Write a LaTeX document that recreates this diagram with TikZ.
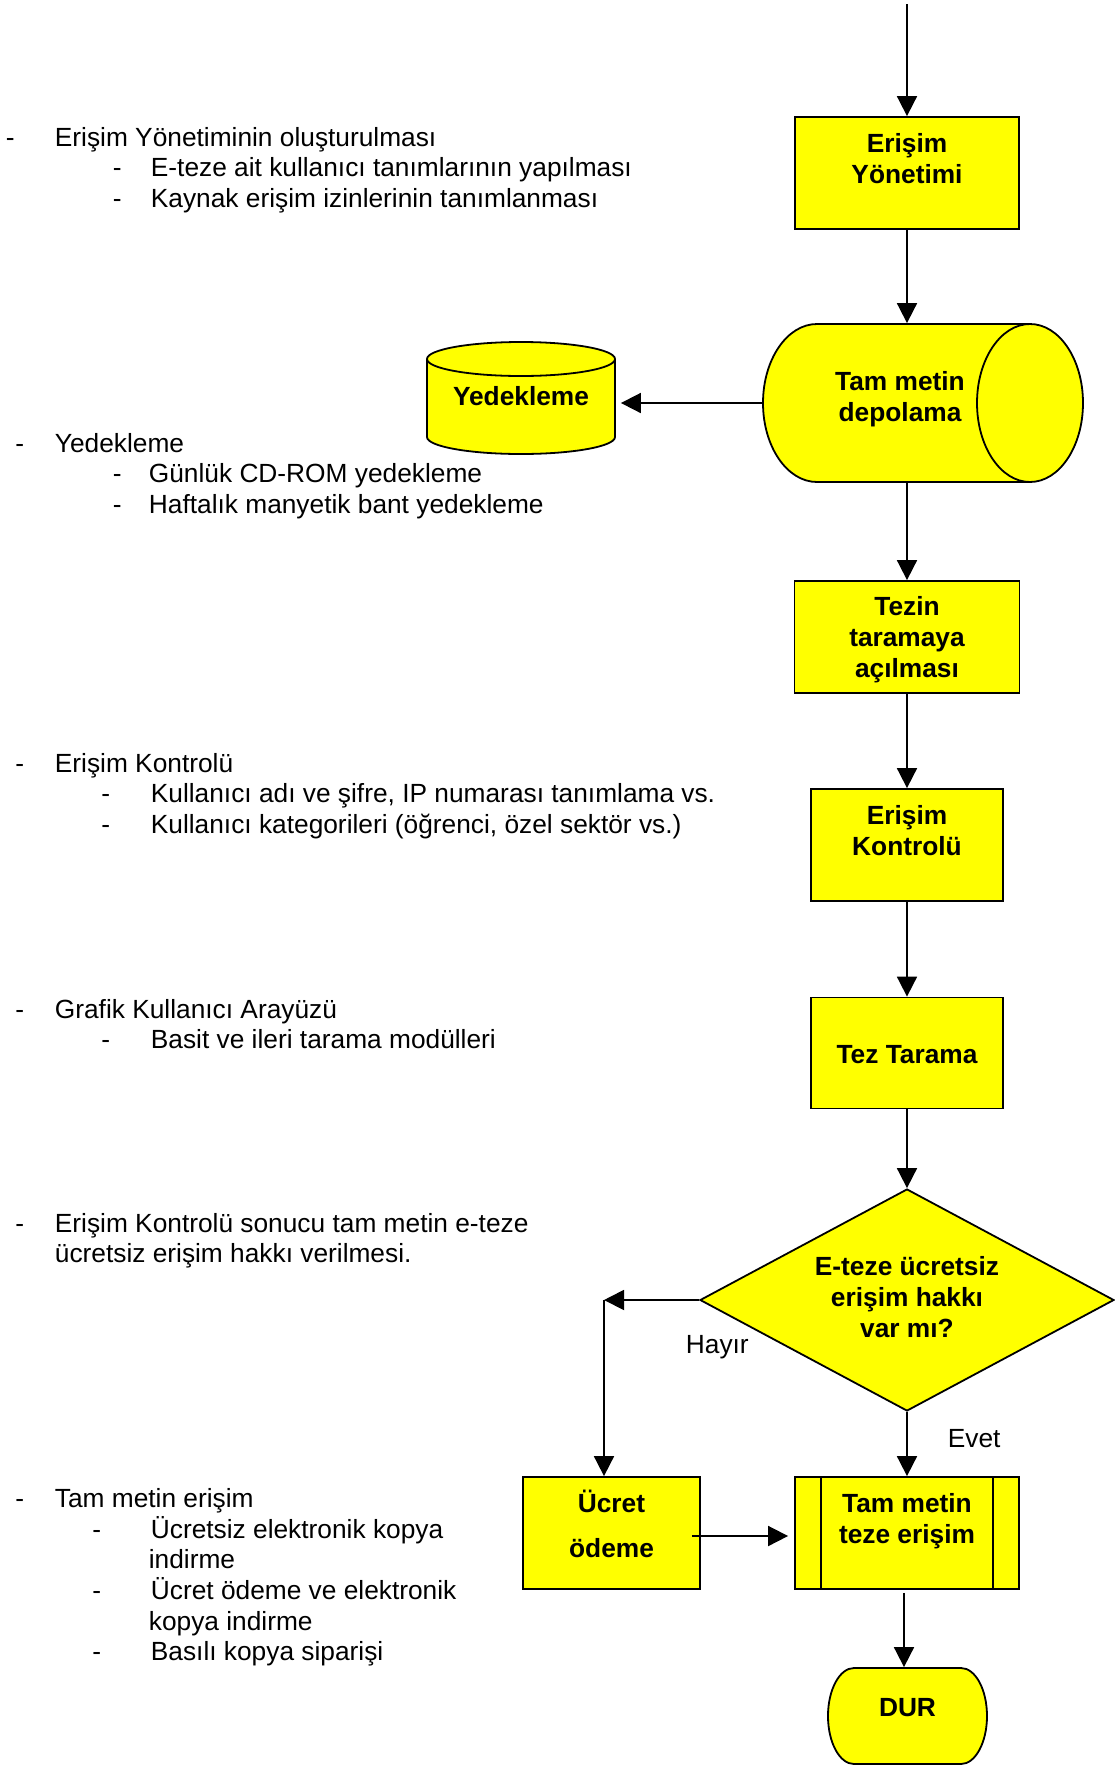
\documentclass[tikz,border=0pt]{standalone}
\usepackage{fontspec}
\setmainfont{Liberation Sans}
\usetikzlibrary{arrows.meta,shapes.geometric,calc}
\definecolor{fy}{HTML}{FFFF00}
\begin{document}
\begin{tikzpicture}[x=1pt,y=-1pt, line width=1.8pt,
  box/.style={draw, fill=fy, inner sep=0pt},
  ghost/.style={inner sep=0pt},
  arr/.style={-{Triangle[length=20pt,width=20pt]}},
  bt/.style={font=\fontsize{26.3pt}{30.4pt}\selectfont\bfseries, inner sep=0pt, anchor=base},
  rt/.style={font=\fontsize{26.3pt}{30.4pt}\selectfont, inner sep=0pt, anchor=base west}]
\useasboundingbox (0,0) rectangle (1115,1765);

% ---- Erisim Yonetimi
\coordinate (start) at (907,4);
\node[box, minimum width=224pt, minimum height=112pt] (yon) at (907,173) {};
\node[bt] (yon1) at (907,152) {Erişim};
\node[bt] (yon2) at (907,183) {Yönetimi};

% ---- Tam metin depolama (horizontal cylinder)
\node[ghost, minimum width=320pt, minimum height=158pt] (depo) at (923,403) {};
\filldraw[fill=fy] (817,403) ellipse [x radius=54pt, y radius=79pt];
\fill[fy] (817,324) rectangle (1030,482);
\draw (817,324) -- (1030,324) (817,482) -- (1030,482);
\filldraw[fill=fy] (1030,403) ellipse [x radius=53pt, y radius=79pt];
\node[bt] (depo1) at (900,390) {Tam metin};
\node[bt] (depo2) at (900,421) {depolama};

% ---- Yedekleme (vertical cylinder)
\node[ghost, minimum width=188pt, minimum height=112pt] (yed) at (521,398) {};
\filldraw[fill=fy] (521,437) ellipse [x radius=94pt, y radius=17pt];
\fill[fy] (427,359) rectangle (615,437);
\draw (427,359) -- (427,437) (615,359) -- (615,437);
\filldraw[fill=fy] (521,359) ellipse [x radius=94pt, y radius=17pt];
\node[bt] (yedt) at (521,405) {Yedekleme};

% ---- Tezin taramaya acilmasi
\node[box, minimum width=225pt, minimum height=112pt] (tezin) at (907,637) {};
\node[bt] (tezin1) at (907,615) {Tezin};
\node[bt] (tezin2) at (907,646) {taramaya};
\node[bt] (tezin3) at (907,677) {açılması};

% ---- Erisim Kontrolu
\node[box, minimum width=192pt, minimum height=112pt] (kontrol) at (907,845) {};
\node[bt] (kontrol1) at (907,824) {Erişim};
\node[bt] (kontrol2) at (907,855) {Kontrolü};

% ---- Tez Tarama
\node[box, minimum width=192pt, minimum height=111pt] (tarama) at (907,1053) {};
\node[bt] (tarama1) at (907,1063) {Tez Tarama};

% ---- Decision
\node[draw, fill=fy, diamond, inner sep=0pt, minimum width=414pt, minimum height=222pt] (dia) at (907,1300) {};
\node[bt] (dia1) at (907,1275) {E-teze ücretsiz};
\node[bt] (dia2) at (907,1306) {erişim hakkı};
\node[bt] (dia3) at (907,1337) {var mı?};
\node[rt] (hayir) at (685,1353) {Hayır};
\node[rt] (evet) at (947,1447) {Evet};

% ---- Ucret odeme
\node[box, minimum width=177pt, minimum height=112pt] (ucret) at (611.5,1533) {};
\node[bt] (ucret1) at (611.5,1512) {Ücret};
\node[bt] (ucret2) at (611.5,1557) {ödeme};

% ---- Tam metin teze erisim (predefined process)
\node[box, minimum width=224pt, minimum height=112pt] (teze) at (907,1533) {};
\draw ([xshift=27pt]teze.north west) -- ([xshift=27pt]teze.south west)
      ([xshift=-27pt]teze.north east) -- ([xshift=-27pt]teze.south east);
\node[bt] (teze1) at (907,1512) {Tam metin};
\node[bt] (teze2) at (907,1543) {teze erişim};

% ---- DUR (terminator)
\node[ghost, minimum width=159pt, minimum height=96pt] (dur) at (907.5,1716) {};
\filldraw[fill=fy] (854,1668) -- (961,1668)
  arc[start angle=90, end angle=-90, x radius=26pt, y radius=48pt]
  -- (854,1764)
  arc[start angle=270, end angle=90, x radius=26pt, y radius=48pt] -- cycle;
\node[bt] (durt) at (907.5,1716) {DUR};

% ---- connectors
\draw[arr] (start) -- (yon.north);
\draw[arr] (yon.south) -- (yon.south |- depo.north);
\draw[arr, shorten >=5pt] (depo.west) -- (depo.west -| yed.east);
\draw[arr] (tezin.north |- depo.south) -- (tezin.north);
\draw[arr] (tezin.south) -- (kontrol.north);
\draw[arr] (kontrol.south) -- (tarama.north);
\draw[arr] (tarama.south) -- (dia.north);
\coordinate (corner) at (604,1300);
\draw[arr] (dia.west) -- (corner);
\draw[arr] (corner) -- (corner |- ucret.north);
\draw[arr] (dia.south) -- (teze.north);
\draw[arr] ([xshift=-9pt,yshift=-3pt]ucret.east) -- ([xshift=-6pt,yshift=-3pt]teze.west);
\draw[arr] ([xshift=-3pt,yshift=-3pt]teze.south) -- ([xshift=-3pt]teze.south |- dur.north);

% ---- left side texts
\node[rt] (d1) at (5,146) {-};
\node[rt] (t1) at (54,146) {Erişim Yönetiminin oluşturulması};
\node[rt] (d1a) at (112,176.5) {-};
\node[rt] (t1a) at (150,176.5) {E-teze ait kullanıcı tanımlarının yapılması};
\node[rt] (d1b) at (112,207) {-};
\node[rt] (t1b) at (150,207) {Kaynak erişim izinlerinin tanımlanması};

\node[rt] (d2) at (14.5,452) {-};
\node[rt] (t2) at (54,452) {Yedekleme};
\node[rt] (d2a) at (112,482.5) {-};
\node[rt] (t2a) at (148,482.5) {Günlük CD-ROM yedekleme};
\node[rt] (d2b) at (112,513) {-};
\node[rt] (t2b) at (148,513) {Haftalık manyetik bant yedekleme};

\node[rt] (d3) at (14.5,772) {-};
\node[rt] (t3) at (54,772) {Erişim Kontrolü};
\node[rt] (d3a) at (100.5,802.5) {-};
\node[rt] (t3a) at (150,802.5) {Kullanıcı adı ve şifre, IP numarası tanımlama vs.};
\node[rt] (d3b) at (100.5,833) {-};
\node[rt] (t3b) at (150,833) {Kullanıcı kategorileri (öğrenci, özel sektör vs.)};

\node[rt] (d4) at (14.5,1018) {-};
\node[rt] (t4) at (54,1018) {Grafik Kullanıcı Arayüzü};
\node[rt] (d4a) at (100.5,1048.5) {-};
\node[rt] (t4a) at (150,1048.5) {Basit ve ileri tarama modülleri};

\node[rt] (d5) at (14.5,1232) {-};
\node[rt] (t5) at (54,1232) {Erişim Kontrolü sonucu tam metin e-teze};
\node[rt] (t5b) at (54,1262.5) {ücretsiz erişim hakkı verilmesi.};

\node[rt] (d6) at (14.5,1507.5) {-};
\node[rt] (t6) at (54,1507.5) {Tam metin erişim};
\node[rt] (d6a) at (91.5,1538) {-};
\node[rt] (t6a) at (150,1538) {Ücretsiz elektronik kopya};
\node[rt] (t6a2) at (148,1568) {indirme};
\node[rt] (d6b) at (91.5,1599) {-};
\node[rt] (t6b) at (150,1599) {Ücret ödeme ve elektronik};
\node[rt] (t6b2) at (148,1630) {kopya indirme};
\node[rt] (d6c) at (91.5,1660) {-};
\node[rt] (t6c) at (150,1660) {Basılı kopya siparişi};
\end{tikzpicture}
\end{document}
